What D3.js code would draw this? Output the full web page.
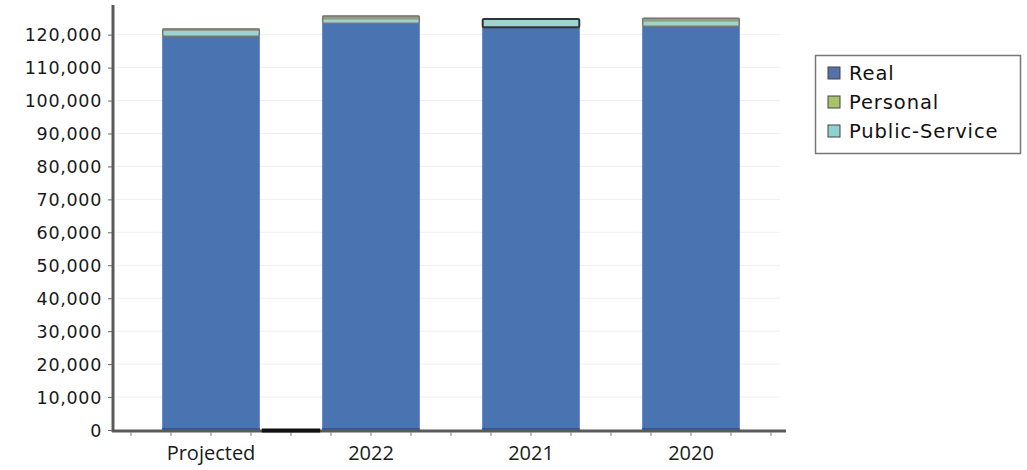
<!DOCTYPE html>
<html><head><meta charset="utf-8">
<script src="https://cdn.jsdelivr.net/npm/d3@7"></script>
<style>body{margin:0;background:#fff}</style>
</head><body>
<svg id="c" width="1027" height="470"></svg>
<script>
const categories = ["Projected", "2022", "2021", "2020"];
const seriesNames = ["Real", "Personal", "Public-Service"];
const realValues = [119700, 123600, 122400, 122700];
const personalValues = [900, 1300, 200, 1200];
const publicServiceValues = [1300, 900, 2300, 1200];
const yTicks = [0,10000,20000,30000,40000,50000,60000,70000,80000,90000,100000,110000,120000];

const colors = {"Real":"#4a73b2","Personal":"#8e9f83","Public-Service":"#9fd3d0"};
const legendColors = {"Real":"#5670a8","Personal":"#a9c36a","Public-Service":"#8fd0d0"};

const rows = categories.map((c,i)=>({cat:c,"Real":realValues[i],"Personal":personalValues[i],"Public-Service":publicServiceValues[i]}));
// order bottom->top: Real, Public-Service, Personal
const stack = d3.stack().keys(["Real","Public-Service","Personal"])(rows);

const svg = d3.select("#c");
const x = d3.scaleBand().domain(categories).range([131,771]).paddingInner(0.39).paddingOuter(0.195);
const y = d3.scaleLinear().domain([0,129000]).range([430,5]);

// gridlines
svg.append("g").selectAll("line").data(yTicks.slice(1)).join("line")
  .attr("x1",116).attr("x2",780).attr("y1",d=>y(d)).attr("y2",d=>y(d))
  .attr("stroke","#efefef").attr("stroke-width",1);

// bars
const g = svg.append("g");
stack.forEach(s=>{
  g.selectAll(null).data(s).join("rect")
    .attr("x",d=>x(d.data.cat)).attr("width",x.bandwidth())
    .attr("y",d=>y(d[1])).attr("height",d=>Math.max(0,y(d[0])-y(d[1])))
    .attr("fill",colors[s.key]);
});
// outline of the stacked top
g.selectAll(null).data(rows).join("rect")
  .attr("x",d=>x(d.cat)+0.5).attr("width",x.bandwidth()-1)
  .attr("y",d=>y(d["Real"]+d["Personal"]+d["Public-Service"])+0.5)
  .attr("height",d=>y(d["Real"])-y(d["Real"]+d["Personal"]+d["Public-Service"]))
  .attr("fill","none").attr("stroke",(d,i)=>i===2?"#333":"#777").attr("stroke-width",(d,i)=>i===2?2:1.5).attr("rx",1.5);
// darker bottom strip
g.selectAll(null).data(rows).join("rect")
  .attr("x",d=>x(d.cat)).attr("width",x.bandwidth())
  .attr("y",y(600)).attr("height",y(0)-y(600)).attr("fill","#2f5a9a");

// y axis
const ya = svg.append("g").attr("transform","translate(113,0)")
  .call(d3.axisLeft(y).tickValues(yTicks).tickSize(5).tickPadding(6).tickFormat(d3.format(",")));
ya.select(".domain").remove();
ya.selectAll(".tick line").attr("stroke","#666");
ya.selectAll("text").attr("font-family","DejaVu Sans").attr("font-size","17.5px")
  .attr("letter-spacing","0.7px").attr("fill","#1a1a1a").attr("dy","0.36em");
svg.append("line").attr("x1",113).attr("x2",113).attr("y1",5).attr("y2",432)
  .attr("stroke","#5a5a5a").attr("stroke-width",3);

// x axis
const xa = svg.append("g").attr("transform","translate(0,431)")
  .call(d3.axisBottom(x).tickSize(0).tickPadding(15));
xa.select(".domain").remove();
xa.selectAll("text").attr("font-family","Open Sans").attr("font-size","20px").attr("fill","#1a1a1a");
svg.append("line").attr("x1",112).attr("x2",786).attr("y1",431).attr("y2",431)
  .attr("stroke","#5a5a5a").attr("stroke-width",3);
// minor ticks below x axis
const minor = d3.range(0,17).map(k=>131+40*k).filter(v=>v<785);
svg.append("g").selectAll("line").data(minor).join("line")
  .attr("x1",d=>d).attr("x2",d=>d).attr("y1",432).attr("y2",436)
  .attr("stroke","#777").attr("stroke-width",1);
// dark segment on x axis between first two bars
svg.append("line").attr("x1",x("Projected")+x.bandwidth()+2).attr("x2",x("2022")-2)
  .attr("y1",430.5).attr("y2",430.5).attr("stroke","#111").attr("stroke-width",4);

// legend
const lg = svg.append("g").attr("transform","translate(815,55)");
lg.append("rect").attr("x",0.5).attr("y",0.5).attr("width",205).attr("height",98)
  .attr("fill","#fff").attr("stroke","#777").attr("stroke-width",1.5);
seriesNames.forEach((n,i)=>{
  const yy = 18 + i*29;
  lg.append("rect").attr("x",13).attr("y",yy-6).attr("width",12).attr("height",12)
    .attr("fill",legendColors[n]).attr("stroke","#444").attr("stroke-width",1);
  lg.append("text").attr("x",34).attr("y",yy).attr("dy","0.36em")
    .attr("font-family","DejaVu Sans").attr("font-size","19.5px").attr("letter-spacing","0.9px")
    .attr("fill","#111").text(n);
});
</script>
</body></html>
